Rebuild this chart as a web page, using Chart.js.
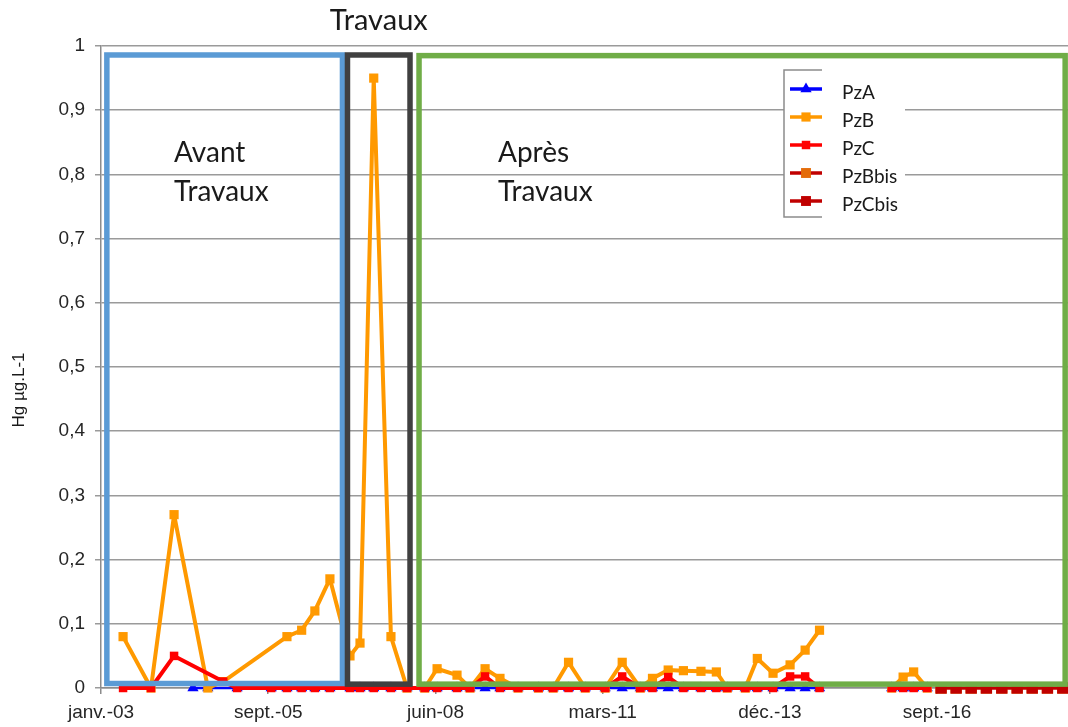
<!DOCTYPE html>
<html>
<head>
<meta charset="utf-8">
<script src="https://cdn.jsdelivr.net/npm/chart.js@4.4.1/dist/chart.umd.min.js"></script>
<style>
html,body{margin:0;padding:0;background:#ffffff;}
#wrap{width:1068px;height:727px;position:relative;}
</style>
</head>
<body>
<div id="wrap"><canvas id="c" width="1068" height="727"></canvas></div>
<script>
// ---------------- DATA ----------------
const axisStartDate = '2003-01-01';
const axisEndDate = '2018-11-01';
const xTickStepDays = 1000;
const xTickLabels = ['janv.-03', 'sept.-05', 'juin-08', 'mars-11', 'déc.-13', 'sept.-16'];
const yTickLabels = ['0', '0,1', '0,2', '0,3', '0,4', '0,5', '0,6', '0,7', '0,8', '0,9', '1'];
const yAxisTitle = 'Hg µg.L-1';
const seriesNames = ['PzA', 'PzB', 'PzC', 'PzBbis', 'PzCbis'];

const pzADates = ['2004-07-04','2004-10-01','2005-03-25','2005-10-15','2006-01-17','2006-04-15','2006-07-03','2006-10-01',
  '2007-01-29','2007-03-30','2007-06-20','2007-10-01','2008-01-05','2008-04-20','2008-07-03','2008-10-30',
  '2009-01-16','2009-04-16','2009-07-14','2009-10-30','2010-03-01','2010-05-28','2010-08-28','2010-12-06',
  '2011-04-04','2011-07-15','2011-10-31','2012-01-12','2012-04-15','2012-07-15','2012-10-28','2013-01-28',
  '2013-04-03','2013-07-20','2013-09-30','2014-01-02','2014-04-14','2014-07-13','2014-10-07','2015-05-01',
  '2015-12-13','2016-02-19','2016-04-22','2016-07-12'];
const pzAValues = [0,0,0,0,0,0,0,0, 0,0,0,0,0,0,0,0, 0,0,0,0,0,0,0,0, 0,0,0,0,0,0,0,0, 0,0,0,0,0,0,0,null, 0,0,0,0];

const pzBDates = ['2003-05-13','2003-10-27','2004-03-13','2004-10-01','2005-01-01','2006-01-17','2006-04-15','2006-07-03',
  '2006-10-01','2007-01-29','2007-03-30','2007-06-20','2007-10-01','2008-01-05','2008-04-20','2008-07-03',
  '2008-10-30','2009-01-16','2009-04-16','2009-07-14','2009-10-30','2010-03-01','2010-05-28','2010-08-28',
  '2010-12-06','2011-04-04','2011-07-15','2011-10-31','2012-01-12','2012-04-15','2012-07-15','2012-10-28',
  '2013-01-28','2013-04-03','2013-07-20','2013-09-30','2014-01-02','2014-04-14','2014-07-13','2014-10-07',
  '2015-05-01','2015-12-13','2016-02-19','2016-04-22','2016-07-12'];
const pzBValues = [0.08,0,0.27,0,0.01,0.08,0.09,0.12, 0.17,0.05,0.07,0.95,0.08,0,0,0.03,
  0.02,0,0.03,0.015,0,0,0,0.04, 0,0,0.04,0,0.015,0.028,0.027,0.026,
  0.025,0,0,0.046,0.023,0.036,0.059,0.09, null,0,0.017,0.025,0];

const pzCDates = ['2003-05-13','2003-10-27','2004-03-13','2005-01-01','2005-03-25','2005-10-15','2006-01-17','2006-04-15',
  '2006-07-03','2006-10-01','2007-01-29','2007-03-30','2007-06-20','2007-10-01','2008-01-05','2008-04-20',
  '2008-07-03','2008-10-30','2009-01-16','2009-04-16','2009-07-14','2009-10-30','2010-03-01','2010-05-28',
  '2010-08-28','2010-12-06','2011-04-04','2011-07-15','2011-10-31','2012-01-12','2012-04-15','2012-07-15',
  '2012-10-28','2013-01-28','2013-04-03','2013-07-20','2013-09-30','2014-01-02','2014-04-14','2014-07-13',
  '2014-10-07','2015-05-01','2015-12-13','2016-02-19','2016-04-22','2016-07-12'];
const pzCValues = [0,0,0.05,0.01,0,0,0,0, 0,0,0,0,0,0,0,0, 0,0,0,0.018,0,0,0,0, 0,0,0,0.018,0,0,0.017,0,
  0,0,0,0,0,0,0.018,0.018, 0,null,0,0,0,0];

const bisDates = ['2016-10-03','2017-01-01','2017-04-01','2017-07-01','2017-10-01','2018-01-01','2018-04-01','2018-07-01','2018-10-01'];
const pzBbisValues = [0,0,0,0,0,0,0,0,0];
const pzCbisValues = [0,0,0,0,0,0,0,0,0];

// Annotation boxes (period frames), in data coordinates
const periodBoxes = [
  {from:'2003-02-05', to:'2006-12-15', yLow:0.007, yHigh:0.986, color:'#5B9BD5'},
  {from:'2007-01-14', to:'2008-01-23', yLow:0.006, yHigh:0.986, color:'#404040'},
  {from:'2008-03-17', to:'2018-10-15', yLow:0.006, yHigh:0.985, color:'#70AD47'}
];
const periodTexts = [
  {lines:['Avant','Travaux'], x:174, y:[162, 201]},
  {lines:['Après','Travaux'], x:498, y:[162, 201]}
];
const topTitle = 'Travaux';

// ---------------- HELPERS ----------------
const DAY = 86400000;
const origin = Date.parse(axisStartDate);
const toDay = d => (Date.parse(d) - origin) / DAY;
const pts = (dates, vals) => dates.map((d, i) => ({x: toDay(d), y: vals[i]}));

const styles = [
  {line:'#0000FF', fill:'#0000FF', shape:'triangle', r:6.5, lw:2.5, order:5},
  {line:'#FF9900', fill:'#FF9900', shape:'rect', r:6.5, lw:4, order:4},
  {line:'#FF0000', fill:'#FF0000', shape:'rect', r:6, lw:4, order:3},
  {line:'#C00000', fill:'#E46C0A', shape:'rect', r:8, lw:3, order:2},
  {line:'#C00000', fill:'#C00000', shape:'rect', r:8, lw:3, order:1}
];
const seriesData = [pts(pzADates,pzAValues), pts(pzBDates,pzBValues), pts(pzCDates,pzCValues),
  pts(bisDates,pzBbisValues), pts(bisDates,pzCbisValues)];

const datasets = seriesNames.map((name, i) => ({
  label: name,
  data: seriesData[i],
  borderColor: styles[i].line,
  backgroundColor: styles[i].fill,
  borderWidth: styles[i].lw,
  borderJoinStyle: 'round',
  borderCapStyle: 'round',
  pointStyle: styles[i].shape,
  pointRadius: styles[i].r,
  pointHoverRadius: styles[i].r,
  pointBackgroundColor: styles[i].fill,
  pointBorderColor: styles[i].fill,
  pointBorderWidth: 0,
  tension: 0,
  spanGaps: false,
  clip: false,
  order: styles[i].order
}));

function drawMarker(ctx, shape, x, y, r, color) {
  ctx.fillStyle = color;
  ctx.beginPath();
  if (shape === 'triangle') {
    const a = 2 * Math.PI / 3;
    ctx.moveTo(x, y - r);
    ctx.lineTo(x + Math.sin(a) * r, y - Math.cos(a) * r);
    ctx.lineTo(x + Math.sin(2 * a) * r, y - Math.cos(2 * a) * r);
    ctx.closePath();
  } else {
    const s = r * Math.SQRT1_2;
    ctx.rect(x - s, y - s, 2 * s, 2 * s);
  }
  ctx.fill();
}

const overlayPlugin = {
  id: 'overlay',
  afterDatasetsDraw(chart) {
    const ctx = chart.ctx;
    const xs = chart.scales.x, ys = chart.scales.y;
    ctx.save();
    // period boxes
    periodBoxes.forEach(b => {
      const x0 = xs.getPixelForValue(toDay(b.from));
      const x1 = xs.getPixelForValue(toDay(b.to));
      const y0 = ys.getPixelForValue(b.yHigh);
      const y1 = ys.getPixelForValue(b.yLow);
      ctx.strokeStyle = b.color;
      ctx.lineWidth = 5.5;
      ctx.strokeRect(x0, y0, x1 - x0, y1 - y0);
    });
    // period texts
    ctx.fillStyle = '#1a1a1a';
    ctx.font = '28px Lato';
    ctx.textAlign = 'left';
    ctx.textBaseline = 'alphabetic';
    periodTexts.forEach(t => t.lines.forEach((l, k) => ctx.fillText(l, t.x, t.y[k])));
    // top title centred on the works box
    const wb = periodBoxes[1];
    const cx = (xs.getPixelForValue(toDay(wb.from)) + xs.getPixelForValue(toDay(wb.to))) / 2;
    ctx.font = '29px Lato';
    ctx.textAlign = 'center';
    ctx.textBaseline = 'middle';
    ctx.fillText(topTitle, cx, 21);
    // legend
    const L = {left:784, top:70, bottom:217, right:905, s0:790, s1:822, tx:842, y0:89, step:28};
    ctx.fillStyle = '#ffffff';
    ctx.fillRect(L.left, L.top, L.right - L.left, L.bottom - L.top);
    ctx.strokeStyle = '#8c8c8c';
    ctx.lineWidth = 1.5;
    ctx.beginPath();
    ctx.moveTo(L.s1, L.top); ctx.lineTo(L.left, L.top); ctx.lineTo(L.left, L.bottom); ctx.lineTo(L.s1, L.bottom);
    ctx.stroke();
    chart.data.datasets.forEach((ds, i) => {
      const y = L.y0 + i * L.step;
      ctx.strokeStyle = ds.borderColor;
      ctx.lineWidth = 3.5;
      ctx.beginPath(); ctx.moveTo(L.s0, y); ctx.lineTo(L.s1, y); ctx.stroke();
      drawMarker(ctx, ds.pointStyle, (L.s0 + L.s1) / 2, y, Math.min(ds.pointRadius, 7), ds.pointBackgroundColor);
      ctx.fillStyle = '#1a1a1a';
      ctx.font = '19px Lato';
      ctx.textAlign = 'left';
      ctx.textBaseline = 'middle';
      ctx.fillText(ds.label, L.tx, y + 4);
    });
    // y axis title
    ctx.save();
    ctx.translate(19, 390);
    ctx.rotate(-Math.PI / 2);
    ctx.fillStyle = '#1a1a1a';
    ctx.font = '17px "Liberation Sans"';
    ctx.textAlign = 'center';
    ctx.textBaseline = 'middle';
    ctx.fillText(yAxisTitle, 0, 0);
    ctx.restore();
    ctx.restore();
  }
};

new Chart(document.getElementById('c'), {
  type: 'line',
  data: {datasets},
  options: {
    responsive: false,
    animation: false,
    devicePixelRatio: 1,
    layout: {autoPadding: false, padding: {top: 46, left: 0, right: 0, bottom: 0}},
    plugins: {legend: {display: false}, tooltip: {enabled: false}},
    scales: {
      x: {
        type: 'linear',
        min: 0,
        max: toDay(axisEndDate),
        afterBuildTicks: s => { s.ticks = xTickLabels.map((_, i) => ({value: i * xTickStepDays})); },
        afterFit: s => { s.height = 39; s.paddingLeft = 0; s.paddingRight = 0; },
        grid: {drawOnChartArea: false, drawTicks: true, tickLength: 6, color: '#8c8c8c', lineWidth: 1.5},
        border: {display: true, color: '#8c8c8c', width: 1.5},
        ticks: {
          autoSkip: false, maxRotation: 0, minRotation: 0, padding: 7,
          color: '#262626', font: {family: '"Liberation Sans", Arial, sans-serif', size: 19},
          callback: (v, i) => xTickLabels[i]
        }
      },
      y: {
        min: 0, max: 1,
        ticks: {
          stepSize: 0.1, padding: 10, autoSkip: false,
          color: '#262626', font: {family: '"Liberation Sans", Arial, sans-serif', size: 19},
          callback: (v, i) => yTickLabels[i]
        },
        afterFit: s => { s.width = 101; s.paddingTop = 0; s.paddingBottom = 0; },
        grid: {color: '#9a9a9a', lineWidth: 1.5, tickLength: 6, drawTicks: true},
        border: {display: true, color: '#8c8c8c', width: 1.5}
      }
    }
  },
  plugins: [overlayPlugin]
});
</script>
</body>
</html>
